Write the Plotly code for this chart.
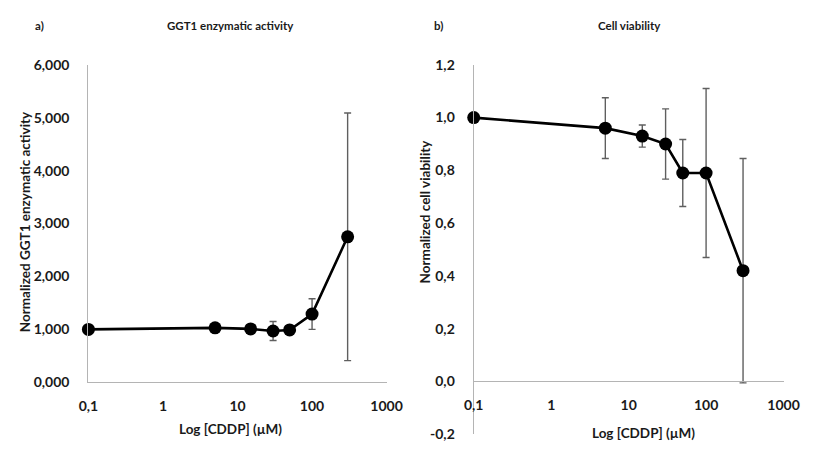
import plotly.graph_objects as go

# CDDP concentrations (µM)
conc = [0.1, 5, 15, 30, 50, 100, 300]

# Panel a: normalized GGT1 enzymatic activity
ggt1_mean = [1.00, 1.03, 1.01, 0.97, 0.99, 1.29, 2.75]
ggt1_err = [0.0, 0.0, 0.07, 0.18, 0.06, 0.29, 2.34]

# Panel b: normalized cell viability
viab_mean = [1.00, 0.96, 0.93, 0.90, 0.79, 0.79, 0.42]
viab_err = [0.0, 0.115, 0.042, 0.133, 0.127, 0.32, 0.425]

x_tickvals = [0.1, 1, 10, 100, 1000]
x_ticktext = ["0,1", "1", "10", "100", "1000"]
ya_tickvals = [0, 1, 2, 3, 4, 5, 6]
ya_ticktext = ["0,000", "1,000", "2,000", "3,000", "4,000", "5,000", "6,000"]
yb_tickvals = [-0.2, 0, 0.2, 0.4, 0.6, 0.8, 1.0, 1.2]
yb_ticktext = ["-0,2", "0,0", "0,2", "0,4", "0,6", "0,8", "1,0", "1,2"]

W, H = 816, 450
FONT = "Lato"
AXIS_GREY = "#b4b4b4"
ERR_GREY = "#5f5f5f"


def px_x(p):
    return p / W


def px_y(p):
    return 1 - p / H


fig = go.Figure()

for xa, ya, mean, err in [("x", "y", ggt1_mean, ggt1_err),
                          ("x2", "y2", viab_mean, viab_err)]:
    fig.add_trace(go.Scatter(
        x=conc, y=mean, xaxis=xa, yaxis=ya, mode="lines+markers",
        line=dict(color="black", width=2.6),
        marker=dict(color="black", size=13),
        error_y=dict(type="data", array=err, visible=True,
                     color=ERR_GREY, thickness=1.4, width=3.5),
        showlegend=False, cliponaxis=False,
    ))

tickfont = dict(family=FONT, size=14, color="#1a1a1a", weight="bold")

common_x = dict(type="log", tickvals=x_tickvals, ticktext=x_ticktext,
                showgrid=False, zeroline=False, showline=True,
                linecolor=AXIS_GREY, linewidth=1.3, ticks="",
                tickfont=tickfont, ticklabelstandoff=11)
common_y = dict(showgrid=False, zeroline=False, showline=True,
                linecolor=AXIS_GREY, linewidth=1.3, ticks="",
                tickfont=tickfont, ticklabelstandoff=15)

fig.update_layout(
    width=W, height=H,
    margin=dict(l=0, r=0, t=0, b=0),
    paper_bgcolor="white", plot_bgcolor="white",
    xaxis=dict(common_x, domain=[px_x(81), px_x(389)],
               range=[-1, 3], anchor="y"),
    yaxis=dict(common_y, domain=[px_y(388), px_y(58)], range=[0, 6],
               tickvals=ya_tickvals, ticktext=ya_ticktext, anchor="x"),
    xaxis2=dict(common_x, domain=[px_x(479), px_x(799)],
                range=[-1, 3], anchor="free",
                position=px_y(387)),
    yaxis2=dict(common_y, domain=[px_y(442), px_y(58)], range=[-0.2, 1.2],
                tickvals=yb_tickvals, ticktext=yb_ticktext, anchor="x2"),
)

title_font = dict(family=FONT, size=11.5, color="#1a1a1a", weight="bold")
axis_font = dict(family=FONT, size=13.5, color="#1a1a1a", weight="bold")
texts = [
    ("a)", 30, 17, 0, title_font),
    ("GGT1 enzymatic activity", 228, 17, 0, title_font),
    ("b)", 443, 17, 0, title_font),
    ("Cell viability", 640, 17, 0, title_font),
    ("Log [CDDP] (µM)", 228, 437, 0, axis_font),
    ("Log [CDDP] (µM)", 654, 441, 0, axis_font),
    ("Normalized GGT1 enzymatic activity", 15, 221, -90, axis_font),
    ("Normalized cell viability", 429, 210, -90, axis_font),
]
for t, x, y, ang, f in texts:
    fig.add_annotation(text=t, x=px_x(x), y=px_y(y), xref="paper", yref="paper",
                       showarrow=False, textangle=ang, font=f,
                       xanchor="center", yanchor="middle")

fig.write_html("out.html")
